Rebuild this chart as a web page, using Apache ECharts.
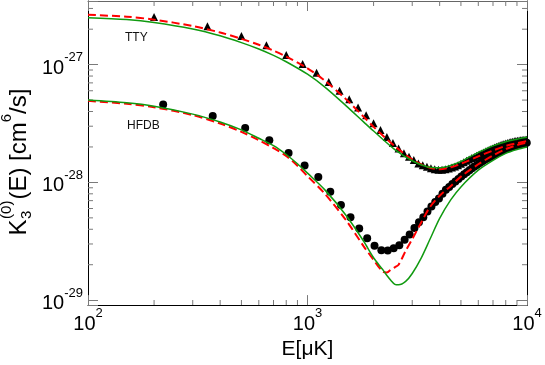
<!DOCTYPE html>
<html>
<head>
<meta charset="utf-8">
<script src="https://cdn.jsdelivr.net/npm/echarts@6/dist/echarts.min.js"></script>
<style>
  html, body { margin: 0; padding: 0; background: #fff; }
  #chart { width: 545px; height: 365px; }
</style>
</head>
<body>
<div id="chart"></div>
<script>
// axis ranges and tick labels (K in cm^6/s)
var xMin = 100, xMax = 10000;
var yMin = 9.08e-30, yMax = 3.47e-27;
var xTicks = [100, 1000, 10000];
var xTickExp = ['2', '3', '4'];
var yTicks = [1e-29, 1e-28, 1e-27];
var yTickExp = ['-29', '-28', '-27'];
var xMinor = [200, 300, 400, 500, 600, 700, 800, 900, 2000, 3000, 4000, 5000, 6000, 7000, 8000, 9000];
var yMinor = [2e-29, 3e-29, 4e-29, 5e-29, 6e-29, 7e-29, 8e-29, 9e-29,
              2e-28, 3e-28, 4e-28, 5e-28, 6e-28, 7e-28, 8e-28, 9e-28, 2e-27, 3e-27];

// TTY points (triangles)
var ttyPtE = [200, 350, 500, 650, 800, 950, 1100, 1250, 1400, 1550, 1700, 1850, 2000, 2150, 2300, 2450,
  2600, 2750, 2900, 3050, 3200, 3350, 3500, 3650, 3800, 3950, 4100, 4250, 4400, 4550, 4700, 4850,
  5000, 5150, 5300, 5450, 5600, 5750, 5900, 6050, 6200, 6350, 6500, 6650, 6800, 6950, 7100, 7250,
  7400, 7550, 7700, 7850, 8000, 8150, 8300, 8450, 8600, 8750, 8900, 9050, 9200, 9350, 9500, 9650,
  9800, 9950];
var ttyPtK = [2.54e-27, 2.12e-27, 1.75e-27, 1.46e-27, 1.21e-27, 1.01e-27, 8.53e-28, 7.13e-28, 6.00e-28,
  5.07e-28, 4.33e-28, 3.71e-28, 3.18e-28, 2.79e-28, 2.43e-28, 2.16e-28, 1.94e-28, 1.77e-28, 1.65e-28,
  1.55e-28, 1.45e-28, 1.40e-28, 1.36e-28, 1.32e-28, 1.294e-28, 1.282e-28, 1.282e-28, 1.294e-28,
  1.312e-28, 1.335e-28, 1.365e-28, 1.40e-28, 1.44e-28, 1.48e-28, 1.53e-28, 1.568e-28, 1.608e-28,
  1.646e-28, 1.684e-28, 1.723e-28, 1.76e-28, 1.798e-28, 1.837e-28, 1.872e-28, 1.909e-28, 1.942e-28,
  1.976e-28, 2.006e-28, 2.037e-28, 2.065e-28, 2.093e-28, 2.117e-28, 2.142e-28, 2.163e-28, 2.184e-28,
  2.20e-28, 2.218e-28, 2.231e-28, 2.244e-28, 2.257e-28, 2.27e-28, 2.279e-28, 2.287e-28, 2.296e-28,
  2.301e-28, 2.305e-28];

// HFDB points (circles)
var hfdbPtE = [220, 370, 520, 670, 820, 970, 1120, 1270, 1420, 1570, 1720, 1870, 2020, 2170, 2320, 2470,
  2620, 2770, 2920, 3070, 3220, 3370, 3520, 3670, 3820, 3970, 4120, 4270, 4420, 4570, 4720, 4870,
  5020, 5170, 5320, 5470, 5620, 5770, 5920, 6070, 6220, 6370, 6520, 6670, 6820, 6970, 7120, 7270,
  7420, 7570, 7720, 7870, 8020, 8170, 8320, 8470, 8620, 8770, 8920, 9070, 9220, 9370, 9520, 9670,
  9820, 9970];
var hfdbPtK = [4.58e-28, 3.66e-28, 2.90e-28, 2.28e-28, 1.78e-28, 1.39e-28, 1.11e-28, 8.32e-29, 6.44e-29,
  5.05e-29, 4.06e-29, 3.35e-29, 2.90e-29, 2.66e-29, 2.64e-29, 2.76e-29, 2.92e-29, 3.26e-29, 3.61e-29,
  4.10e-29, 4.58e-29, 5.07e-29, 5.66e-29, 6.23e-29, 6.82e-29, 7.31e-29, 8.0e-29, 8.64e-29, 9.16e-29,
  9.71e-29, 1.018e-28, 1.067e-28, 1.12e-28, 1.175e-28, 1.222e-28, 1.27e-28, 1.32e-28, 1.363e-28,
  1.406e-28, 1.453e-28, 1.495e-28, 1.54e-28, 1.578e-28, 1.614e-28, 1.652e-28, 1.687e-28, 1.726e-28,
  1.762e-28, 1.795e-28, 1.83e-28, 1.866e-28, 1.894e-28, 1.923e-28, 1.953e-28, 1.977e-28, 2.004e-28,
  2.027e-28, 2.05e-28, 2.07e-28, 2.09e-28, 2.105e-28, 2.12e-28, 2.137e-28, 2.153e-28, 2.167e-28,
  2.175e-28];

// TTY curves
var ttyCurveE = [100, 150, 200, 300, 400, 500, 600, 700, 800, 1000, 1200, 1500, 1800, 2000, 2500, 3000,
  3500, 4000, 4500, 5000, 6000, 7000, 8000, 9000, 10000];
var ttyGreen = [2.506e-27, 2.415e-27, 2.28e-27, 2.007e-27, 1.758e-27, 1.538e-27, 1.358e-27, 1.199e-27,
  1.058e-27, 8.289e-28, 6.442e-28, 4.467e-28, 3.266e-28, 2.729e-28, 1.897e-28, 1.526e-28, 1.358e-28,
  1.33e-28, 1.396e-28, 1.507e-28, 1.799e-28, 2.042e-28, 2.218e-28, 2.328e-28, 2.415e-28];
var ttyRed = [2.652e-27, 2.553e-27, 2.41e-27, 2.126e-27, 1.875e-27, 1.656e-27, 1.475e-27, 1.314e-27,
  1.171e-27, 9.30e-28, 7.31e-28, 5.07e-28, 3.62e-28, 2.96e-28, 2.03e-28, 1.568e-28, 1.358e-28, 1.294e-28,
  1.343e-28, 1.439e-28, 1.662e-28, 1.866e-28, 2.042e-28, 2.154e-28, 2.239e-28];

// HFDB curves
var hfdbCurveE = [100, 150, 200, 300, 400, 500, 600, 700, 800, 900, 1000, 1200, 1500, 1800, 2000, 2200,
  2300, 2400, 2500, 2600, 2800, 3000, 3300, 3600, 4000, 4500, 5000, 6000, 7000, 8000, 9000, 10000];
var hfdbGreen = [5.002e-28, 4.74e-28, 4.43e-28, 3.80e-28, 3.26e-28, 2.79e-28, 2.37e-28, 2.052e-28,
  1.726e-28, 1.439e-28, 1.198e-28, 8.64e-29, 5.24e-29, 3.18e-29, 2.29e-29, 1.82e-29, 1.62e-29, 1.472e-29,
  1.362e-29, 1.35e-29, 1.442e-29, 1.684e-29, 2.29e-29, 3.24e-29, 4.95e-29, 7.13e-29, 9.16e-29, 1.27e-28,
  1.538e-28, 1.762e-28, 1.90e-28, 1.995e-28];
var hfdbRed = [4.927e-28, 4.65e-28, 4.35e-28, 3.73e-28, 3.165e-28, 2.688e-28, 2.283e-28, 1.957e-28,
  1.678e-28, 1.384e-28, 1.131e-28, 8.0e-29, 4.76e-29, 2.88e-29, 2.20e-29, 1.75e-29, 1.72e-29, 1.82e-29,
  1.90e-29, 2.0e-29, 2.62e-29, 3.30e-29, 4.58e-29, 6.11e-29, 7.70e-29, 9.33e-29, 1.12e-28, 1.425e-28,
  1.694e-28, 1.919e-28, 2.073e-28, 2.175e-28];

// the log axis rounds tiny numbers to zero, so plot K in units of 1e-30 cm^6/s
var YS = 1e30;
var FONT = 'Liberation Sans';
var GREEN = '#109a10';
var RED = '#ff0000';
var TICK = '#7a7a7a';

function zip(a, b) {
  return a.map(function (v, i) { return [v, b[i] * YS]; });
}

function tickLabel(ticks, exps, scale) {
  return function (v) {
    for (var i = 0; i < ticks.length; i++) {
      if (Math.abs(Math.log10(v) - Math.log10(ticks[i] * scale)) < 1e-6) {
        return '{b|10}{s|' + exps[i] + '}';
      }
    }
    return '';
  };
}

var richLabel = {
  b: { fontSize: 20, fontFamily: FONT, color: '#000', lineHeight: 27, verticalAlign: 'bottom' },
  s: { fontSize: 13, fontFamily: FONT, color: '#000', verticalAlign: 'top' }
};

function axisBase(type, pos, showLabel, lineColor) {
  return {
    type: 'log',
    logBase: 10,
    position: pos,
    min: type === 'x' ? xMin : yMin * YS,
    max: type === 'x' ? xMax : yMax * YS,
    axisLine: { show: true, onZero: false, lineStyle: { color: lineColor, width: 1 } },
    axisTick: { show: true, inside: true, length: 10, lineStyle: { color: TICK, width: 1 } },
    splitLine: { show: false },
    axisLabel: {
      show: showLabel,
      margin: type === 'x' ? 2 : 5,
      formatter: type === 'x' ? tickLabel(xTicks, xTickExp, 1) : tickLabel(yTicks, yTickExp, YS),
      rich: richLabel
    }
  };
}

var xAxisMain = axisBase('x', 'bottom', true, '#000');
xAxisMain.name = 'E[μK]';
xAxisMain.nameLocation = 'middle';
xAxisMain.nameGap = 31;
xAxisMain.nameTextStyle = { fontSize: 21, fontFamily: FONT, color: '#000' };

// minor ticks: thin rect symbols sitting on the frame
function minorSeries(data, size, offset) {
  return {
    type: 'scatter',
    data: data,
    symbol: 'rect',
    symbolSize: size,
    symbolOffset: offset,
    clip: false,
    silent: true,
    z: 1,
    itemStyle: { color: TICK, opacity: 1 }
  };
}

// y-axis title built from pieces (stacked sub/superscript)
var ctx = document.createElement('canvas').getContext('2d');
function tw(txt, size) { ctx.font = size + 'px "' + FONT + '"'; return ctx.measureText(txt).width; }
var F = 24, f = 15;
var xSub = tw('K', F) + 0.5;
var xRest = xSub + tw('(0)', f) + 1;
var xSix = xRest + tw('(E) [cm', F);
var xEnd = xSix + tw('6', f);
var titleLen = xEnd + tw('/s]', F);
function part(txt, x, y, size) {
  return { type: 'text', style: { text: txt, x: x, y: y, font: size + 'px "' + FONT + '"', fill: '#000', textVerticalAlign: 'middle' } };
}
var titleParts = [
  part('K', 0, 0, F),
  part('3', xSub, 8, f),
  part('(0)', xSub, -12, f),
  part('(E) [cm', xRest, 0, F),
  part('6', xSix, -12, f),
  part('/s]', xEnd, 0, F)
];

var chart = echarts.init(document.getElementById('chart'), null, { renderer: 'canvas' });

chart.setOption({
  animation: false,
  backgroundColor: '#fff',
  textStyle: { fontFamily: FONT },
  grid: { left: 88, right: 18, top: 1, bottom: 55, containLabel: false },
  xAxis: [xAxisMain, axisBase('x', 'top', false, '#666')],
  yAxis: [axisBase('y', 'left', true, '#000'), axisBase('y', 'right', false, '#000')],
  graphic: [
    { type: 'group', x: 19, y: 162 + titleLen / 2, rotation: Math.PI / 2, children: titleParts, silent: true },
    { type: 'text', x: 125, y: 38, style: { text: 'TTY', font: '12px "' + FONT + '"', fill: '#111', textVerticalAlign: 'middle' } },
    { type: 'text', x: 127, y: 126, style: { text: 'HFDB', font: '12px "' + FONT + '"', fill: '#111', textVerticalAlign: 'middle' } }
  ],
  series: [
    minorSeries(xMinor.map(function (v) { return [v, yMin * YS]; }), [1, 5], [0, -2.5]),
    minorSeries(xMinor.map(function (v) { return [v, yMax * YS]; }), [1, 5], [0, 2.5]),
    minorSeries(yMinor.map(function (v) { return [xMin, v * YS]; }), [5, 1], [2.5, 0]),
    minorSeries(yMinor.map(function (v) { return [xMax, v * YS]; }), [5, 1], [-2.5, 0]),
    {
      name: 'TTY points', type: 'scatter', data: zip(ttyPtE, ttyPtK),
      symbol: 'triangle', symbolSize: 8, z: 2,
      itemStyle: { color: '#000', opacity: 1 }
    },
    {
      name: 'HFDB points', type: 'scatter', data: zip(hfdbPtE, hfdbPtK),
      symbol: 'circle', symbolSize: 8, z: 2,
      itemStyle: { color: '#000', opacity: 1 }
    },
    {
      name: 'TTY red', type: 'line', data: zip(ttyCurveE, ttyRed), smooth: 0.3, showSymbol: false, z: 3,
      lineStyle: { color: RED, width: 2, type: [8, 4] }
    },
    {
      name: 'HFDB red', type: 'line', data: zip(hfdbCurveE, hfdbRed), smooth: 0.3, showSymbol: false, z: 3,
      lineStyle: { color: RED, width: 2, type: [8, 4] }
    },
    {
      name: 'TTY green', type: 'line', data: zip(ttyCurveE, ttyGreen), smooth: 0.3, showSymbol: false, z: 4,
      lineStyle: { color: GREEN, width: 1.5 }
    },
    {
      name: 'HFDB green', type: 'line', data: zip(hfdbCurveE, hfdbGreen), smooth: 0.3, showSymbol: false, z: 4,
      lineStyle: { color: GREEN, width: 1.5 }
    }
  ]
});
</script>
</body>
</html>
